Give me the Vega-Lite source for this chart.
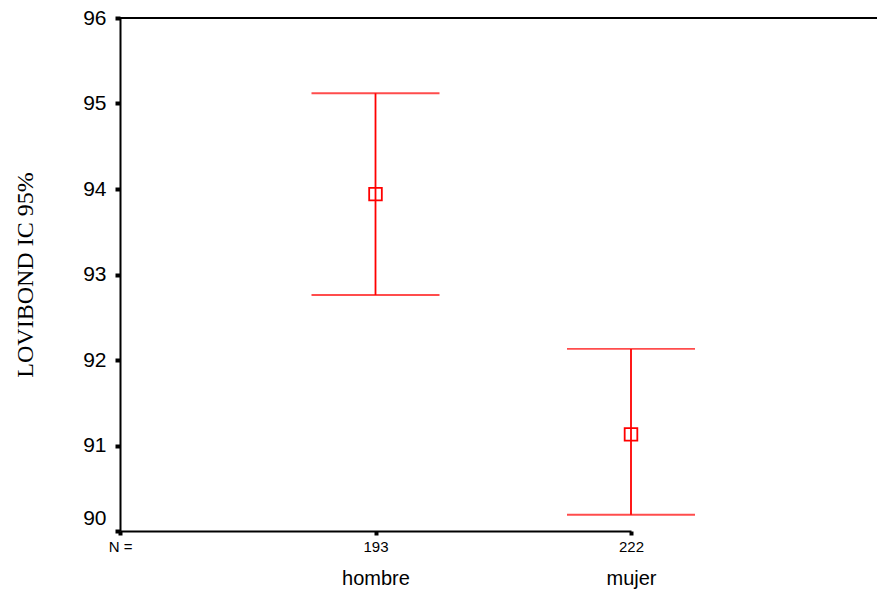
{
  "$schema": "https://vega.github.io/schema/vega-lite/v6.json",
  "width": 757,
  "height": 513,
  "autosize": {"type": "none"},
  "padding": {"left": 120, "top": 18, "right": 0, "bottom": 64},
  "background": "white",
  "config": {"view": {"stroke": null}, "font": "Liberation Sans"},
  "data": {"values": [
    {"sexo": "hombre", "n": 193, "media": 93.94, "inferior": 92.76, "superior": 95.12},
    {"sexo": "mujer", "n": 222, "media": 91.13, "inferior": 90.19, "superior": 92.13}
  ]},
  "resolve": {"axis": {"x": "independent"}},
  "layer": [
    {
      "mark": {"type": "rule", "color": "#ff0000", "strokeWidth": 1.8},
      "encoding": {
        "x": {"field": "sexo", "type": "nominal",
          "scale": {"type": "point", "domain": ["N =", "hombre", "mujer"], "range": [0, 511], "padding": 0},
          "axis": {"orient": "bottom", "title": null, "labelExpr": "datum.value == 'hombre' ? '193' : datum.value == 'mujer' ? '222' : datum.value", "labelAngle": 0, "labelFontSize": 15, "labelColor": "black", "labelPadding": 4, "domainColor": "black", "domainWidth": 2, "tickColor": "black", "tickSize": 4, "tickWidth": 4, "labelFlush": false}},
        "y": {"field": "inferior", "type": "quantitative",
          "scale": {"domain": [90, 96], "nice": false, "zero": false},
          "axis": {"title": "LOVIBOND IC 95%", "titleFont": "Liberation Serif", "titleFontSize": 24, "titleFontWeight": "normal", "titleColor": "black", "titlePadding": 45,
            "values": [90, 91, 92, 93, 94, 95, 96], "format": "d", "grid": false, "labelFontSize": 21, "labelColor": "black", "labelPadding": 9,
            "labelOffset": {"condition": {"test": "datum.value == 90", "value": -13}, "value": 0},
            "tickSize": 5, "tickWidth": 4, "tickColor": "black", "domainColor": "black", "domainWidth": 2, "labelFlush": false}},
        "y2": {"field": "superior"}
      }
    },
    {
      "mark": {"type": "tick", "color": "#ff0000", "thickness": 1.8, "size": 128},
      "encoding": {
        "x": {"field": "sexo", "type": "nominal",
          "scale": {"type": "point", "domain": ["N =", "hombre", "mujer"], "range": [0, 511], "padding": 0},
          "axis": {"orient": "bottom", "title": null, "values": ["hombre", "mujer"], "labelAngle": 0, "labelFontSize": 20, "labelColor": "black", "labelPadding": 37, "ticks": false, "domain": false, "labelFlush": false}},
        "y": {"field": "superior", "type": "quantitative"}
      }
    },
    {
      "mark": {"type": "tick", "color": "#ff0000", "thickness": 1.8, "size": 128},
      "encoding": {
        "x": {"field": "sexo", "type": "nominal",
          "scale": {"type": "point", "domain": ["N =", "hombre", "mujer"], "range": [0, 511], "padding": 0},
          "axis": null},
        "y": {"field": "inferior", "type": "quantitative"}
      }
    },
    {
      "mark": {"type": "point", "shape": "square", "filled": false, "size": 160, "color": "#ff0000", "strokeWidth": 1.8, "opacity": 1},
      "encoding": {
        "x": {"field": "sexo", "type": "nominal",
          "scale": {"type": "point", "domain": ["N =", "hombre", "mujer"], "range": [0, 511], "padding": 0},
          "axis": null},
        "y": {"field": "media", "type": "quantitative"}
      }
    },
    {
      "mark": {"type": "rule", "color": "black", "strokeWidth": 2},
      "encoding": {
        "y": {"datum": 96, "type": "quantitative"}
      }
    }
  ]
}
